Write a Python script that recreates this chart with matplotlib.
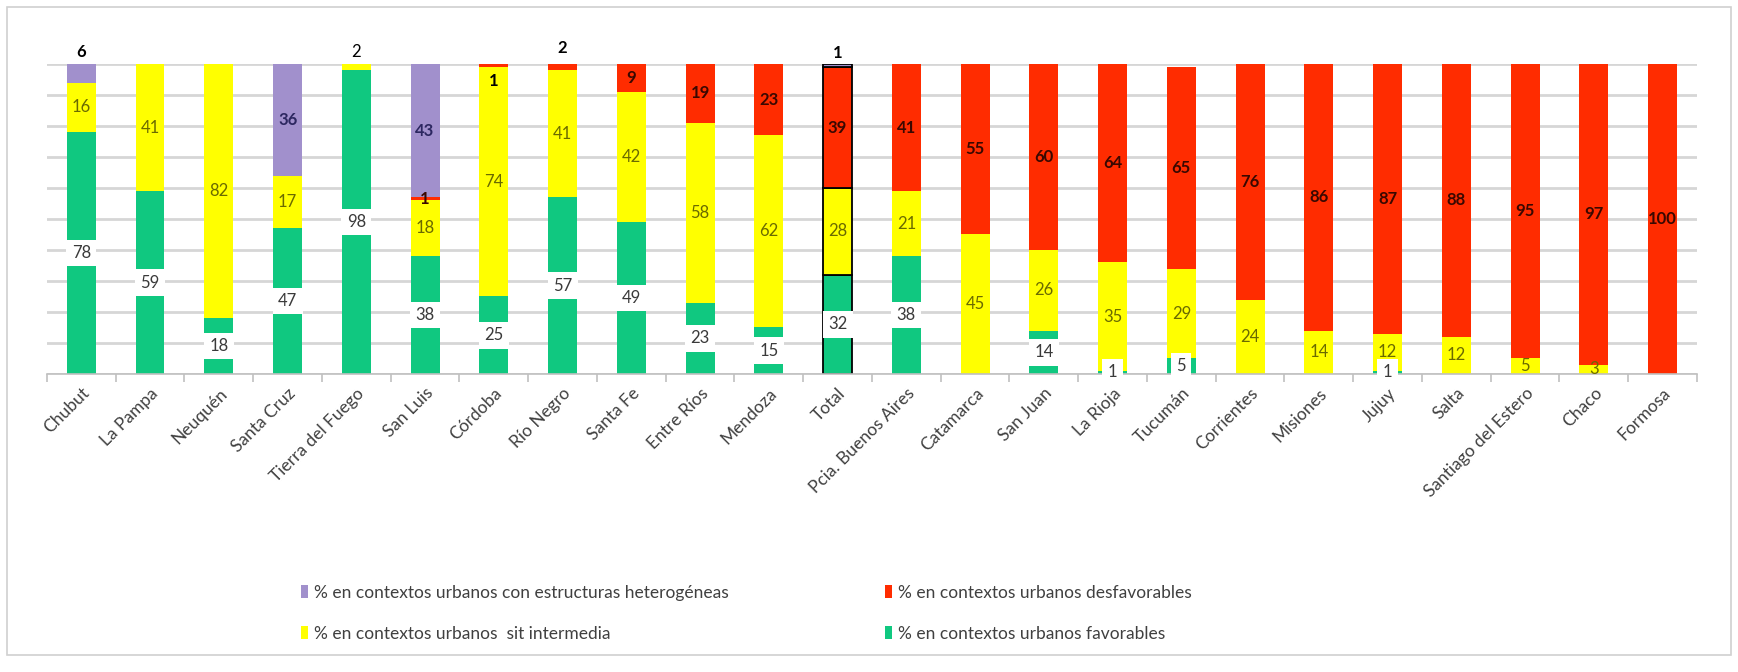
import matplotlib.pyplot as plt
from matplotlib.patches import Patch, Rectangle
import numpy as np

plt.rcParams["font.family"] = ["Lato", "DejaVu Sans"]

provincias = ["Chubut", "La Pampa", "Neuquén", "Santa Cruz", "Tierra del Fuego", "San Luis",
              "Córdoba", "Río Negro", "Santa Fe", "Entre Ríos", "Mendoza", "Total",
              "Pcia. Buenos Aires", "Catamarca", "San Juan", "La Rioja", "Tucumán",
              "Corrientes", "Misiones", "Jujuy", "Salta", "Santiago del Estero", "Chaco", "Formosa"]

favorables    = [78, 59, 18, 47, 98, 38, 25, 57, 49, 23, 15, 32, 38, 0, 14, 1, 5, 0, 0, 1, 0, 0, 0, 0]
intermedia    = [16, 41, 82, 17, 2, 18, 74, 41, 42, 58, 62, 28, 21, 45, 26, 35, 29, 24, 14, 12, 12, 5, 3, 0]
desfavorables = [0, 0, 0, 0, 0, 1, 1, 2, 9, 19, 23, 39, 41, 55, 60, 64, 65, 76, 86, 87, 88, 95, 97, 100]
heterogeneas  = [6, 0, 0, 36, 0, 43, 0, 0, 0, 0, 0, 1, 0, 0, 0, 0, 0, 0, 0, 0, 0, 0, 0, 0]

# key, legend text, values, bar colour, label colour, white box behind label
series = [
    ("fav", "% en contextos urbanos favorables", favorables, "#10c880", "#3a3a3a", True),
    ("int", "% en contextos urbanos  sit intermedia", intermedia, "#ffff00", "#6a6a00", False),
    ("des", "% en contextos urbanos desfavorables", desfavorables, "#ff2c00", "#3a0800", False),
    ("het", "% en contextos urbanos con estructuras heterogéneas", heterogeneas, "#a190cc", "#2c2760", False),
]

# labels that Excel moved off their segment
moved = {
    ("Chubut", "het"): 104.0,
    ("Tierra del Fuego", "int"): 104.0,
    ("Río Negro", "des"): 105.0,
    ("Total", "het"): 103.5,
    ("Córdoba", "des"): 94.5,
}

fig = plt.figure(figsize=(17.38, 6.72), dpi=100)
ax = fig.add_axes([0.027, 0.4435, 0.9494, 0.4613])

x = np.arange(len(provincias))
edges = ["black" if p == "Total" else "none" for p in provincias]
bottom = np.zeros(len(provincias))
for key, name, vals, col, tcol, boxed in series:
    vals = np.array(vals, dtype=float)
    ax.bar(x, vals, 0.42, bottom=bottom, color=col, edgecolor=edges, linewidth=1.3, zorder=2)
    for i, v in enumerate(vals):
        if v <= 0:
            continue
        y = moved.get((provincias[i], key), bottom[i] + v / 2)
        kw = dict(ha="center", va="center", fontsize=12, color=tcol, zorder=4)
        if (provincias[i], key) in moved:
            kw["color"] = "black"
        if key in ("des", "het"):
            kw["fontweight"] = "bold"
        if boxed:
            kw["bbox"] = dict(boxstyle="square,pad=0.32", fc="white", ec="none")
        ax.text(x[i], y, f"{int(v)}", **kw)
    bottom += vals

ax.set_xlim(-0.5, len(provincias) - 0.5)
ax.set_ylim(0, 100)
ax.set_yticks(np.arange(0, 101, 10))
ax.yaxis.grid(True, color="#d6d6d6", linewidth=2, zorder=0)
ax.tick_params(axis="y", left=False, labelleft=False)
ax.set_axisbelow(True)
for s in ["left", "right", "top"]:
    ax.spines[s].set_visible(False)
ax.spines["bottom"].set_color("#c0c0c0")
ax.spines["bottom"].set_linewidth(1.2)

ax.set_xticks(x)
ax.set_xticklabels(provincias, rotation=45, ha="right", rotation_mode="anchor",
                   fontsize=12.5, color="#404040")
ax.set_xticks(np.arange(-0.5, len(provincias), 1), minor=True)
ax.tick_params(axis="x", which="major", length=0, pad=8)
ax.tick_params(axis="x", which="minor", length=6, color="#c0c0c0", width=1.2)

# legend in two separate columns, as in the original
lk = {s[0]: s for s in series}
for keys, xpos in [(("het", "int"), 0.168), (("des", "fav"), 0.504)]:
    handles = [Patch(facecolor=lk[k][3], edgecolor="none", label=lk[k][1]) for k in keys]
    fig.legend(handles=handles, loc="upper left", bbox_to_anchor=(xpos, 0.143), frameon=False,
               fontsize=12.5, handlelength=0.45, handleheight=0.8, handletextpad=0.3,
               labelspacing=1.45, borderpad=0, labelcolor="#404040")

fig.patches.append(Rectangle((0.004, 0.025), 0.992, 0.964, transform=fig.transFigure,
                             fill=False, edgecolor="#d0d0d0", linewidth=1.2))

fig.savefig("out.png", dpi=100, facecolor="white")
